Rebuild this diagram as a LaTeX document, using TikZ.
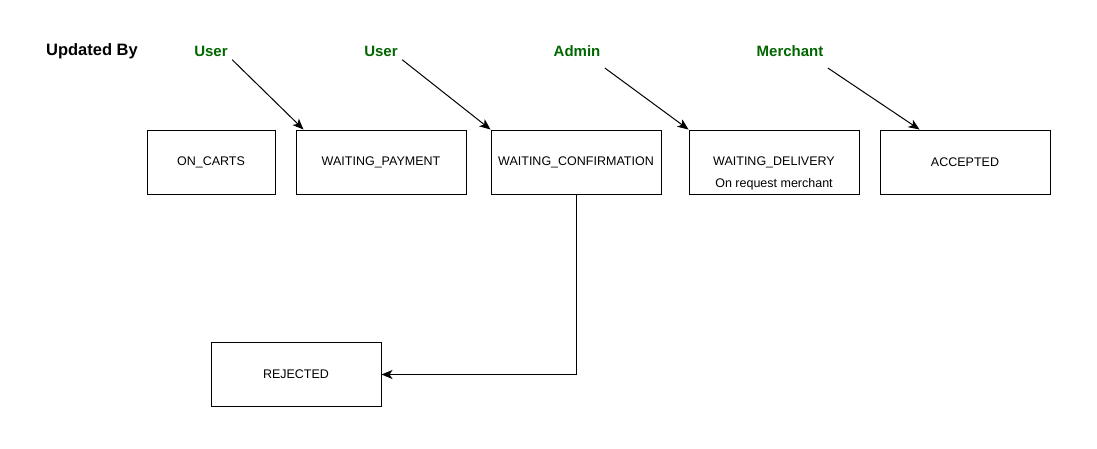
\documentclass[tikz,border=0pt]{standalone}
\usepackage{fontspec}
\setmainfont{Liberation Sans}
\usepackage{tikz}
\usetikzlibrary{arrows.meta, positioning}

\definecolor{updgreen}{HTML}{006600}

\begin{document}
\begin{tikzpicture}[x=1pt,y=-1pt,node distance=20pt,>={Stealth[length=11pt,width=9pt,inset=3pt]},line width=1pt,
	status/.style={draw, minimum width=170pt, minimum height=64pt, inner sep=2pt, font=\fontsize{12.5}{14}\selectfont},
	actor/.style={text=updgreen, inner sep=2pt, font=\fontsize{15}{18}\selectfont\bfseries},
	upd/.style={->, line width=1pt}]
	
	\useasboundingbox (0,0) rectangle (1097,448);
	
	\node (title) [inner sep=2pt, font=\fontsize{16.5}{19}\selectfont\bfseries] at (92,51) {Updated By};
	\node (u1) [actor] at (211,51) {User};
	\node (u2) [actor] at (381,51) {User};
	\node (ad) [actor] at (577,51) {Admin};
	\node (mc) [actor] at (790,51) {Merchant};
	
	\node (oc) [status, minimum width=128pt] at (211,162) {ON\_CARTS};
	\node (wp) [status, right=20pt of oc] {WAITING\_PAYMENT};
	\node (wc) [status, right=24pt of wp] {WAITING\_CONFIRMATION};
	\node (wd) [status, right=27pt of wc] {WAITING\_DELIVERY};
	\node (wdnote) [inner sep=0pt, font=\fontsize{12.5}{14}\selectfont] at ([yshift=-22pt]wd.center) {On request merchant};
	\node (ac) [status, right=20pt of wd] {ACCEPTED};
	
	\node (rj) [status] at (296,374.5) {REJECTED};
	
	\draw [upd] ([shift={(2pt,-1pt)}]u1.south east) -- ([xshift=8pt]wp.north west);
	\draw [upd] ([shift={(2pt,-1pt)}]u2.south east) -- (wc.north west);
	\draw [upd] ([shift={(2pt,-9pt)}]ad.south east) -- (wd.north west);
	\draw [upd] ([shift={(2pt,-9pt)}]mc.south east) -- ([xshift=40pt]ac.north west);
	
	\draw [->] (wc.south) |- (rj.east);
\end{tikzpicture}
\end{document}
